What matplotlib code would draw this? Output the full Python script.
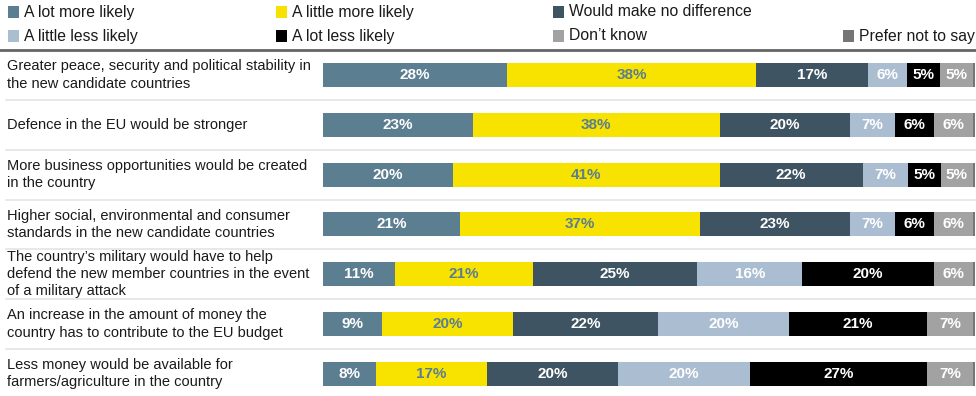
import matplotlib.pyplot as plt
from matplotlib.patches import Rectangle
from matplotlib.lines import Line2D
import matplotlib.transforms as mtransforms

plt.rcParams['font.family'] = ['Liberation Sans', 'DejaVu Sans']

categories = [
    "Greater peace, security and political stability in\nthe new candidate countries",
    "Defence in the EU would be stronger",
    "More business opportunities would be created\nin the country",
    "Higher social, environmental and consumer\nstandards in the new candidate countries",
    "The country\u2019s military would have to help\ndefend the new member countries in the event\nof a military attack",
    "An increase in the amount of money the\ncountry has to contribute to the EU budget",
    "Less money would be available for\nfarmers/agriculture in the country",
]
series_names = ["A lot more likely", "A little more likely", "Would make no difference",
                "A little less likely", "A lot less likely", "Don\u2019t know", "Prefer not to say"]
lot_more = [28, 23, 20, 21, 11, 9, 8]
little_more = [38, 38, 41, 37, 21, 20, 17]
no_diff = [17, 20, 22, 23, 25, 22, 20]
little_less = [6, 7, 7, 7, 16, 20, 20]
lot_less = [5, 6, 5, 6, 20, 21, 27]
dont_know = [5, 6, 5, 6, 6, 7, 7]
prefer_not = [0.3, 0.3, 0.3, 0.3, 0.3, 0.3, 0.3]

series = [lot_more, little_more, no_diff, little_less, lot_less, dont_know, prefer_not]
colors = ["#5b7e91", "#f8e300", "#3e5462", "#abbdd1", "#000000", "#a2a2a2", "#767676"]
text_colors = ["white", "#5b7e91", "white", "white", "white", "white", None]

# each row is drawn as a share of its own total so all bars end flush
totals = [sum(s[i] for s in series) for i in range(len(categories))]

W, H = 976, 396
fig = plt.figure(figsize=(W / 100, H / 100), dpi=100)
ax = fig.add_axes([323 / W, 0, 652 / W, 1])
row_h = 49.8
ax.set_ylim((H - 75) / row_h, -75 / row_h)
ax.set_xlim(0, 100)
ax.axis("off")

ypos = list(range(len(categories)))
left = [0] * len(categories)
for vals, col, tcol in zip(series, colors, text_colors):
    widths = [v / t * 100 for v, t in zip(vals, totals)]
    ax.barh(ypos, widths, left=left, height=24 / row_h, color=col, edgecolor="none")
    if tcol is not None:
        for y, v, w, l in zip(ypos, vals, widths, left):
            ax.text(l + w / 2, y, f"{v}%", ha="center", va="center", color=tcol,
                    fontsize=11, fontweight="bold",
                    family=["Liberation Sans Narrow", "Liberation Sans"])
    left = [l + w for l, w in zip(left, widths)]

# row labels and separators
trans = mtransforms.blended_transform_factory(fig.transFigure, ax.transData)
for y, label in zip(ypos, categories):
    ax.text(7 / W, y, label, transform=trans, ha="left", va="center",
            fontsize=10.5, color="#1a1a1a", linespacing=1.3)
for y in ypos[:-1]:
    fig.add_artist(Line2D([6 / W, 1], [y + 0.5, y + 0.5], transform=trans,
                          color="#e4e4e4", lw=1.2, clip_on=False))
fig.add_artist(Line2D([0, 1], [-0.5, -0.5], transform=trans,
                      color="#666666", lw=2, clip_on=False))

# legend
leg_x = [8, 276, 553, 8, 276, 553, 843]
leg_y = [12, 12, 12, 36, 36, 36, 36]
for k, (lx, ly) in enumerate(zip(leg_x, leg_y)):
    fig.add_artist(Rectangle((lx / W, 1 - (ly + 5.5) / H), 11 / W, 11 / H,
                             transform=fig.transFigure, color=colors[k], lw=0))
    fig.text((lx + 16) / W, 1 - ly / H, series_names[k], ha="left", va="center",
             fontsize=11.3, color="#1a1a1a")

fig.savefig("out.png", dpi=100)
